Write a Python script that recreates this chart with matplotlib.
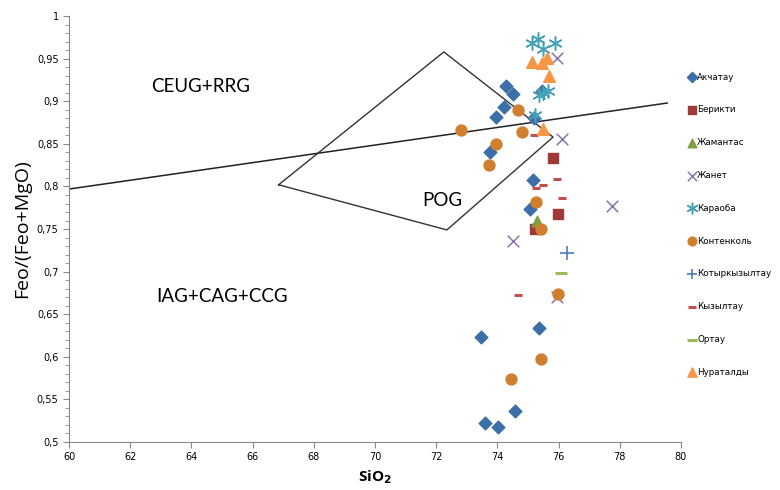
import matplotlib
matplotlib.use("Agg")
import matplotlib.pyplot as plt
from matplotlib.ticker import MultipleLocator, FuncFormatter

# %% Data
akchatau_x = [74.28, 74.50, 74.22, 73.94, 75.20, 75.45, 73.76, 75.16, 75.07, 75.36, 73.46, 74.58, 73.60, 74.02]
akchatau_y = [0.918, 0.909, 0.893, 0.882, 0.881, 0.912, 0.840, 0.808, 0.773, 0.634, 0.623, 0.536, 0.522, 0.518]

berikti_x = [75.82, 75.98, 75.23]
berikti_y = [0.833, 0.768, 0.750]

zhamantas_x = [75.29]
zhamantas_y = [0.759]

zhanet_x = [75.95, 76.11, 77.75, 74.50, 75.95]
zhanet_y = [0.951, 0.856, 0.777, 0.736, 0.670]

karaoba_x = [75.13, 75.33, 75.49, 75.88, 75.36, 75.65, 75.50, 75.23]
karaoba_y = [0.968, 0.973, 0.961, 0.968, 0.907, 0.912, 0.910, 0.884]

kontenkol_x = [74.67, 72.80, 74.80, 73.95, 73.73, 75.26, 75.42, 75.98, 75.42, 74.44]
kontenkol_y = [0.890, 0.866, 0.864, 0.850, 0.825, 0.782, 0.750, 0.674, 0.597, 0.574]

kotyr_x = [76.27]
kotyr_y = [0.722]

kyzyltau_x = [75.20, 75.95, 75.50, 75.26, 76.10, 74.67]
kyzyltau_y = [0.860, 0.809, 0.802, 0.798, 0.786, 0.673]

ortau_x = [76.08]
ortau_y = [0.698]

nurataldy_x = [75.13, 75.46, 75.62, 75.69, 75.49]
nurataldy_y = [0.946, 0.945, 0.951, 0.930, 0.867]

# discrimination diagram boundaries
pog_x = [66.85, 72.25, 75.82, 72.35, 66.85]
pog_y = [0.802, 0.958, 0.858, 0.749, 0.802]
line_x = [60.0, 79.55]
line_y = [0.797, 0.898]

# %% Plot
fig = plt.figure(figsize=(7.8, 4.9), dpi=100)
ax = fig.add_axes([0.0885, 0.098, 0.7845, 0.869])

ax.plot(line_x, line_y, color="#222222", lw=1.1, zorder=1)
ax.plot(pog_x, pog_y, color="#333333", lw=1.0, zorder=1)

series = [
    ("Акчатау", akchatau_x, akchatau_y, dict(marker="D", color="#3c6ea8", s=42)),
    ("Берикти", berikti_x, berikti_y, dict(marker="s", color="#9e3b38", s=60)),
    ("Жамантас", zhamantas_x, zhamantas_y, dict(marker="^", color="#7fa043", s=60)),
    ("Жанет", zhanet_x, zhanet_y, dict(marker="x", color="#8a74ab", s=70, linewidths=1.1)),
    ("Караоба", karaoba_x, karaoba_y, dict(marker=(6, 2, 0), color="#46a2b8", s=90, linewidths=1.1)),
    ("Контенколь", kontenkol_x, kontenkol_y, dict(marker="o", color="#d07f2e", s=62)),
    ("Котыркызылтау", kotyr_x, kotyr_y, dict(marker="+", color="#4a7dbf", s=90, linewidths=1.2)),
    ("Кызылтау", kyzyltau_x, kyzyltau_y, dict(marker="_", color="#c0504d", s=40, linewidths=2.2)),
    ("Ортау", ortau_x, ortau_y, dict(marker="_", color="#9bbb59", s=80, linewidths=2.2)),
    ("Нураталды", nurataldy_x, nurataldy_y, dict(marker="^", color="#f79646", s=70)),
]
for name, xs, ys, kw in series:
    ax.scatter(xs, ys, label=name, zorder=3, **kw)

ax.text(64.3, 0.918, "CEUG+RRG", fontsize=13.5, family="Lato", ha="center", va="center")
ax.text(72.2, 0.783, "POG", fontsize=13.5, family="Lato", ha="center", va="center")
ax.text(65.0, 0.671, "IAG+CAG+CCG", fontsize=13.5, family="Lato", ha="center", va="center")

ax.set_xlim(60, 80)
ax.set_ylim(0.5, 1.0)
ax.xaxis.set_major_locator(MultipleLocator(2))
ax.yaxis.set_major_locator(MultipleLocator(0.05))
ax.yaxis.set_minor_locator(MultipleLocator(0.01))
ax.yaxis.set_major_formatter(FuncFormatter(lambda v, p: ("%g" % round(v, 2)).replace(".", ",")))
ax.tick_params(axis="both", which="both", direction="out", color="#888888", labelsize=7)
ax.tick_params(axis="both", which="major", length=4)
ax.tick_params(axis="y", which="minor", length=3)
for s in ["top", "right"]:
    ax.spines[s].set_visible(False)
for s in ["left", "bottom"]:
    ax.spines[s].set_color("#888888")

ax.set_xlabel("SiO$_\\mathbf{2}$", fontsize=11, fontweight="bold", family="Open Sans", labelpad=4)
ax.set_ylabel("Feo/(Feo+MgO)", fontsize=14, family="Open Sans", labelpad=4)

ax.legend(loc="upper left", bbox_to_anchor=(1.0, 0.882), frameon=False, fontsize=6.3,
          labelspacing=2.72, handletextpad=0.05, handlelength=1.1, markerscale=0.8,
          borderaxespad=0.3)

fig.savefig("out.png", dpi=100)
